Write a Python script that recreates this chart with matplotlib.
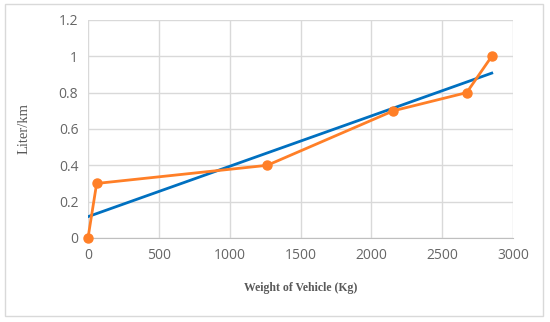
import numpy as np
import matplotlib
matplotlib.use("Agg")
import matplotlib.pyplot as plt
from matplotlib.patches import Rectangle

# vehicle weight (kg) vs fuel use (liter/km)
weight = [0, 61, 1265, 2155, 2672, 2849]
liter_km = [0, 0.3, 0.4, 0.7, 0.8, 1.0]

x_ticks = [0, 500, 1000, 1500, 2000, 2500, 3000]
y_ticks = [0, 0.2, 0.4, 0.6, 0.8, 1.0, 1.2]
y_labels = ['0', '0.2', '0.4', '0.6', '0.8', '1', '1.2']

# linear trendline like excel
slope, icpt = np.polyfit(weight, liter_km, 1)
trend_x = np.array([weight[0], weight[-1]])
trend_y = slope * trend_x + icpt

fig = plt.figure(figsize=(5.5, 3.22), dpi=100)
ax = fig.add_axes([0.16, 0.261, 0.773, 0.677])

ax.plot(trend_x, trend_y, color='#0070c0', lw=2.0, zorder=3)
ax.plot(weight, liter_km, color='#ff7f27', lw=2.0, marker='o', ms=6.5,
        zorder=4, clip_on=False)

ax.set_xlim(0, 3000)
ax.set_ylim(0, 1.2)
ax.set_xticks(x_ticks)
ax.set_yticks(y_ticks)
ax.set_yticklabels(y_labels)
ax.tick_params(length=0, labelsize=10, labelcolor='#666666', pad=7)
for lab in ax.get_xticklabels() + ax.get_yticklabels():
    lab.set_family('Open Sans')

ax.grid(color='#d9d9d9', lw=1)
ax.set_axisbelow(True)
for s in ['top', 'right', 'left']:
    ax.spines[s].set_visible(False)
ax.spines['bottom'].set_color('#bfbfbf')

ax.set_xlabel('Weight of Vehicle (Kg)', family='Liberation Serif',
              fontweight='bold', fontsize=8.5, color='#595959', labelpad=14)
ax.set_ylabel('Liter/km', family='Liberation Serif', fontsize=10.5,
              color='#595959', labelpad=20)

fig.patches.append(Rectangle((0.009, 0.019), 0.979, 0.969, transform=fig.transFigure,
                             fill=False, edgecolor='#d9d9d9', lw=1))

fig.savefig('out.png', dpi=100)
